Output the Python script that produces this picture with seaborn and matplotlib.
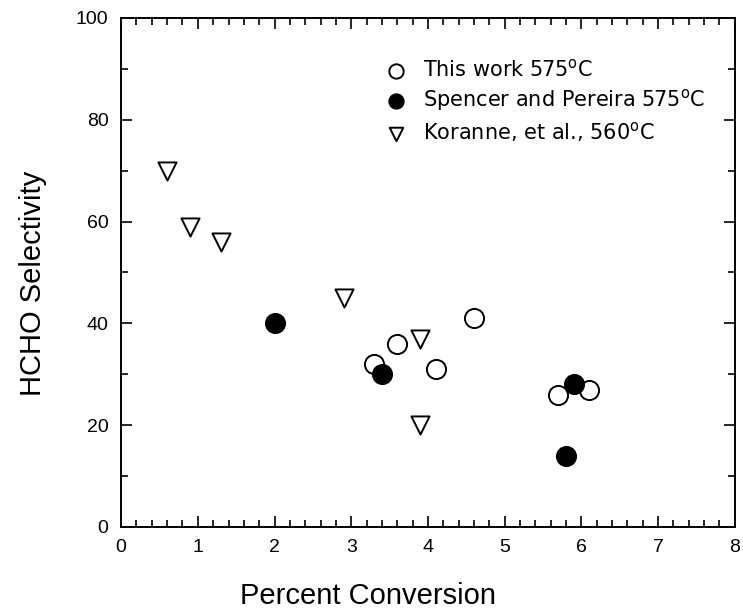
import matplotlib
matplotlib.use("Agg")
import matplotlib.pyplot as plt
import seaborn as sns
from matplotlib.ticker import MultipleLocator

sns.set_theme(style="ticks")
plt.rcParams['font.family'] = ['Liberation Sans', 'DejaVu Sans']
plt.rcParams['mathtext.fontset'] = 'custom'
plt.rcParams['mathtext.rm'] = 'DejaVu Sans'
for k in ['text.color', 'axes.labelcolor', 'xtick.color', 'ytick.color', 'axes.edgecolor']:
    plt.rcParams[k] = 'black'

# Data
this_work_x = [3.3, 3.6, 4.1, 4.6, 5.7, 6.1]
this_work_y = [32, 36, 31, 41, 26, 27]
spencer_x = [2.0, 3.4, 5.8, 5.9]
spencer_y = [40, 30, 14, 28]
koranne_x = [0.6, 0.9, 1.3, 2.9, 3.9, 3.9]
koranne_y = [70, 59, 56, 45, 37, 20]

labels = [r"This work 575$^{\mathrm{o}}$C",
          r"Spencer and Pereira 575$^{\mathrm{o}}$C",
          r"Koranne, et al., 560$^{\mathrm{o}}$C"]

fig = plt.figure(figsize=(7.43, 6.16), dpi=100)
ax = fig.add_axes([0.163, 0.1445, 0.826, 0.8265])

sns.scatterplot(x=this_work_x, y=this_work_y, ax=ax, marker='o', s=190,
                facecolor='white', edgecolor='black', linewidth=1.4, label=labels[0], zorder=3)
sns.scatterplot(x=spencer_x, y=spencer_y, ax=ax, marker='o', s=190,
                facecolor='black', edgecolor='black', linewidth=1.4, label=labels[1], zorder=4)
sns.scatterplot(x=koranne_x, y=koranne_y, ax=ax, marker='v', s=170,
                facecolor='white', edgecolor='black', linewidth=1.4, label=labels[2], zorder=5)

ax.set_xlim(0, 8)
ax.set_ylim(0, 100)
ax.xaxis.set_major_locator(MultipleLocator(1))
ax.xaxis.set_minor_locator(MultipleLocator(0.2))
ax.yaxis.set_major_locator(MultipleLocator(20))
ax.yaxis.set_minor_locator(MultipleLocator(10))
ax.tick_params(which='both', direction='in', top=True, right=True, width=1.2,
               color='black', labelcolor='black')
ax.tick_params(which='major', length=8, labelsize=14, pad=9)
ax.tick_params(which='minor', length=5)
for sp in ax.spines.values():
    sp.set_linewidth(1.4)
    sp.set_color('black')

ax.set_xlabel("Percent Conversion", fontsize=21, color='black')
ax.set_ylabel("HCHO Selectivity", fontsize=21, color='black')
ax.xaxis.set_label_coords(0.402, -0.108)
ax.yaxis.set_label_coords(-0.12, 0.478)

leg = ax.legend(loc='upper left', bbox_to_anchor=(0.4, 0.937), frameon=False,
                prop={'family': 'DejaVu Sans', 'size': 15},
                handletextpad=0.3, labelspacing=0.32, borderaxespad=0,
                markerscale=0.75)
for t in leg.get_texts():
    t.set_color('black')

fig.savefig("out.png", dpi=100)
